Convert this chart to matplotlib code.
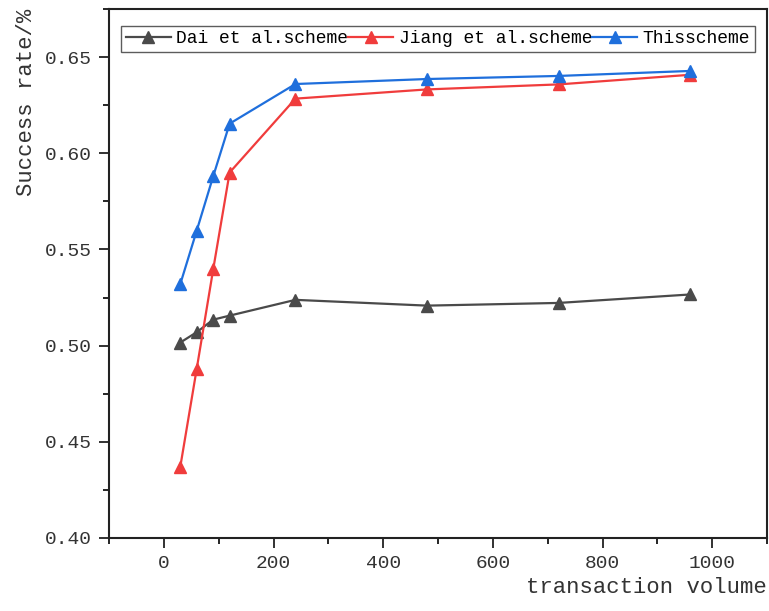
import matplotlib
matplotlib.use("Agg")
import matplotlib.pyplot as plt
from matplotlib.ticker import MultipleLocator

volume = [30, 60, 90, 120, 240, 480, 720, 960]

dai   = [0.5016, 0.5070, 0.5135, 0.5156, 0.5238, 0.5208, 0.5222, 0.5266]
jiang = [0.4370, 0.4880, 0.5396, 0.5900, 0.6284, 0.6332, 0.6358, 0.6408]
ours  = [0.5320, 0.5598, 0.5880, 0.6154, 0.6360, 0.6386, 0.6402, 0.6428]

labels = ["Dai et al.scheme", "Jiang et al.scheme", "Thisscheme"]
colors = ["#4a4a4a", "#f03c3c", "#1f6fdc"]

plt.rcParams["font.family"] = ["Liberation Mono", "DejaVu Sans"]

fig = plt.figure(figsize=(7.69, 6.11), dpi=100)
ax  = fig.add_axes([109/769, 1 - 538/611, 658/769, 529/611])

for ys, lab, c in zip([dai, jiang, ours], labels, colors) :
    ax.plot(volume, ys, color=c, lw=1.6, marker="^", ms=9, label=lab)

ax.set_xlim(-100, 1100)
ax.set_ylim(0.40, 0.675)
ax.xaxis.set_major_locator(MultipleLocator(200))
ax.xaxis.set_minor_locator(MultipleLocator(100))
ax.yaxis.set_major_locator(MultipleLocator(0.05))
ax.yaxis.set_minor_locator(MultipleLocator(0.025))
ax.yaxis.set_major_formatter(lambda v, p : f"{v:.2f}")

ax.tick_params(which="major", direction="out", length=7, width=1.3, labelsize=14,
               colors="#222222", labelcolor="#333333", pad=5)
ax.tick_params(which="minor", direction="out", length=4, width=1.2)
for s in ax.spines.values() :
    s.set_linewidth(1.5)
    s.set_color("#222222")

ax.set_xlabel("transaction volume", loc="right", fontsize=16, labelpad=4, color="#333333")
ax.set_ylabel("Success rate/%", loc="top", fontsize=16, labelpad=6, color="#333333")

leg = ax.legend(loc="upper center", ncol=3, fontsize=13, frameon=True, fancybox=False,
                edgecolor="#333333", handlelength=2.5, handletextpad=0.3,
                columnspacing=0.0, borderpad=0.25, bbox_to_anchor=(0.5, 0.985))
leg.get_frame().set_linewidth(1.0)

fig.savefig("out.png", dpi=100)
